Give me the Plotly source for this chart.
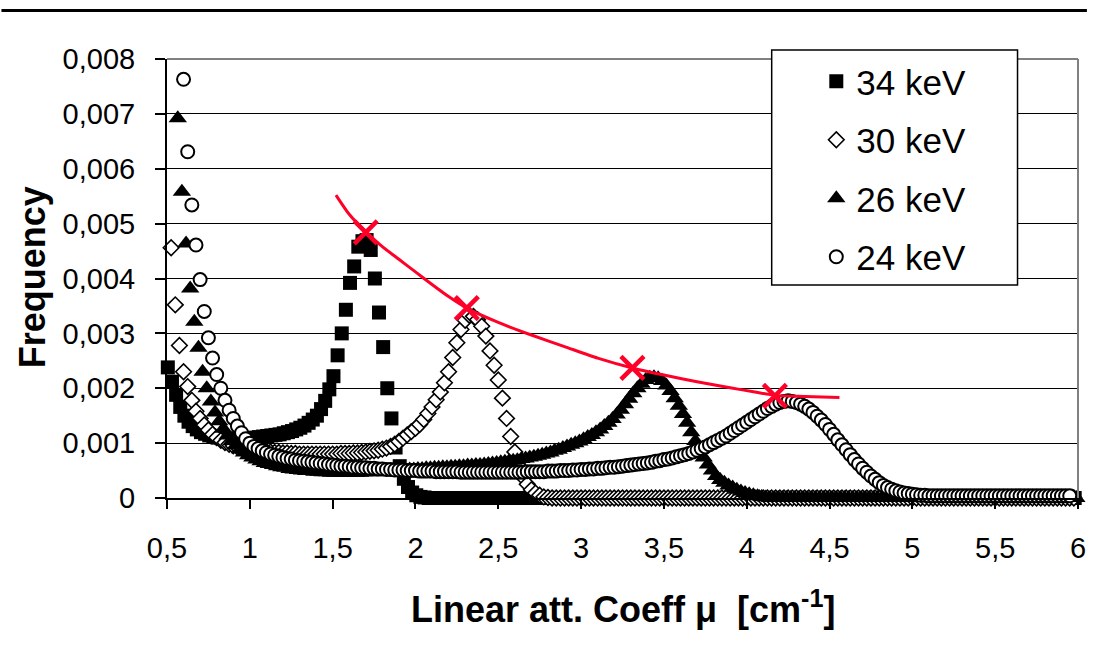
import plotly.graph_objects as go

# ---------------- data (frequency values) ----------------
STEP = 0.025  # spacing of the linear attenuation coefficient samples [cm-1]

start_34 = 0.505
freq_34 = [
    0.00238, 0.00212, 0.00188, 0.00166, 0.00150, 0.00139, 0.00131, 0.00125, 0.00120, 0.00117,
    0.00114, 0.00112, 0.00110, 0.00109, 0.00108, 0.00108, 0.00108, 0.00108, 0.00108, 0.00109,
    0.00109, 0.00110, 0.00111, 0.00112, 0.00113, 0.00114, 0.00115, 0.00116, 0.00118, 0.00120,
    0.00122, 0.00125, 0.00128, 0.00132, 0.00137, 0.00143, 0.00150, 0.00162, 0.00177, 0.00198,
    0.00222, 0.00260, 0.00300, 0.00343, 0.00392, 0.00422, 0.00458, 0.00468, 0.00470, 0.00452,
    0.00400, 0.00338, 0.00275, 0.00200, 0.00145, 0.00092, 0.00058, 0.00035, 0.00020, 0.00010,
    0.00005, 0.00002, 0.00001, 0, 0, 0, 0, 0, 0, 0,
    0, 0, 0, 0, 0, 0, 0, 0, 0, 0,
    0, 0, 0, 0, 0, 0, 0, 0, 0, 0,
    0, 0, 0, 0, 0, 0, 0, 0, 0, 0,
    0, 0, 0, 0, 0, 0, 0, 0, 0, 0,
    0, 0, 0, 0, 0, 0, 0, 0, 0, 0,
    0, 0, 0, 0, 0, 0, 0, 0, 0, 0,
    0, 0, 0, 0, 0, 0, 0, 0, 0, 0,
    0, 0, 0, 0, 0, 0, 0, 0, 0, 0,
    0, 0, 0, 0, 0, 0, 0, 0, 0, 0,
    0, 0, 0, 0, 0, 0, 0, 0, 0, 0,
    0, 0, 0, 0, 0, 0, 0, 0, 0, 0,
    0, 0, 0, 0, 0, 0, 0, 0, 0, 0,
    0, 0, 0, 0, 0, 0, 0, 0, 0, 0,
    0, 0, 0, 0, 0, 0, 0, 0, 0, 0,
    0, 0, 0, 0, 0, 0, 0, 0, 0, 0,
]

start_30 = 0.525
freq_30 = [
    0.00456, 0.00352, 0.00278, 0.00230, 0.00203, 0.00178, 0.00158, 0.00145, 0.00133, 0.00124,
    0.00116, 0.00110, 0.00105, 0.00101, 0.00098, 0.00095, 0.00093, 0.00091, 0.00090, 0.00089,
    0.00088, 0.00087, 0.00086, 0.00085, 0.00084, 0.00083, 0.00083, 0.00082, 0.00082, 0.00081,
    0.00081, 0.00080, 0.00080, 0.00080, 0.00080, 0.00080, 0.00080, 0.00080, 0.00080, 0.00080,
    0.00080, 0.00081, 0.00081, 0.00081, 0.00082, 0.00082, 0.00083, 0.00084, 0.00085, 0.00086,
    0.00087, 0.00089, 0.00091, 0.00094, 0.00098, 0.00103, 0.00109, 0.00115, 0.00121, 0.00127,
    0.00134, 0.00143, 0.00154, 0.00166, 0.00179, 0.00193, 0.00210, 0.00230, 0.00256, 0.00283,
    0.00307, 0.00324, 0.00333, 0.00331, 0.00325, 0.00313, 0.00295, 0.00268, 0.00242, 0.00215,
    0.00182, 0.00145, 0.00112, 0.00084, 0.00058, 0.00038, 0.00025, 0.00015, 0.00009, 0.00005,
    0.00002, 0.00001, 0, 0, 0, 0, 0, 0, 0, 0,
    0, 0, 0, 0, 0, 0, 0, 0, 0, 0,
    0, 0, 0, 0, 0, 0, 0, 0, 0, 0,
    0, 0, 0, 0, 0, 0, 0, 0, 0, 0,
    0, 0, 0, 0, 0, 0, 0, 0, 0, 0,
    0, 0, 0, 0, 0, 0, 0, 0, 0, 0,
    0, 0, 0, 0, 0, 0, 0, 0, 0, 0,
    0, 0, 0, 0, 0, 0, 0, 0, 0, 0,
    0, 0, 0, 0, 0, 0, 0, 0, 0, 0,
    0, 0, 0, 0, 0, 0, 0, 0, 0, 0,
    0, 0, 0, 0, 0, 0, 0, 0, 0, 0,
    0, 0, 0, 0, 0, 0, 0, 0, 0, 0,
    0, 0, 0, 0, 0, 0, 0, 0, 0,
]

start_26 = 0.565
freq_26 = [
    0.00692, 0.00558, 0.00464, 0.00382, 0.00321, 0.00274, 0.00230, 0.00200, 0.00176, 0.00156,
    0.00140, 0.00126, 0.00114, 0.00104, 0.00096, 0.00089, 0.00083, 0.00078, 0.00074, 0.00070,
    0.00067, 0.00064, 0.00062, 0.00060, 0.00058, 0.00056, 0.00055, 0.00053, 0.00052, 0.00051,
    0.00050, 0.00049, 0.00049, 0.00048, 0.00048, 0.00047, 0.00047, 0.00046, 0.00046, 0.00046,
    0.00046, 0.00046, 0.00046, 0.00046, 0.00046, 0.00047, 0.00047, 0.00047, 0.00048, 0.00048,
    0.00049, 0.00049, 0.00050, 0.00050, 0.00051, 0.00051, 0.00052, 0.00052, 0.00053, 0.00053,
    0.00054, 0.00054, 0.00055, 0.00055, 0.00056, 0.00056, 0.00057, 0.00057, 0.00058, 0.00058,
    0.00059, 0.00059, 0.00060, 0.00060, 0.00061, 0.00062, 0.00063, 0.00064, 0.00065, 0.00066,
    0.00067, 0.00068, 0.00069, 0.00071, 0.00072, 0.00074, 0.00075, 0.00077, 0.00079, 0.00081,
    0.00083, 0.00086, 0.00088, 0.00091, 0.00094, 0.00097, 0.00100, 0.00103, 0.00107, 0.00111,
    0.00115, 0.00120, 0.00125, 0.00131, 0.00137, 0.00144, 0.00152, 0.00161, 0.00171, 0.00181,
    0.00191, 0.00200, 0.00208, 0.00215, 0.00219, 0.00220, 0.00218, 0.00213, 0.00205, 0.00195,
    0.00182, 0.00168, 0.00153, 0.00137, 0.00120, 0.00104, 0.00088, 0.00074, 0.00061, 0.00050,
    0.00040, 0.00033, 0.00028, 0.00023, 0.00019, 0.00015, 0.00012, 0.00009, 0.00007, 0.00005,
    0.00003, 0.00002, 0.00001, 0, 0, 0, 0, 0, 0, 0,
    0, 0, 0, 0, 0, 0, 0, 0, 0, 0,
    0, 0, 0, 0, 0, 0, 0, 0, 0, 0,
    0, 0, 0, 0, 0, 0, 0, 0, 0, 0,
    0, 0, 0, 0, 0, 0, 0, 0, 0, 0,
    0, 0, 0, 0, 0, 0, 0, 0, 0, 0,
    0, 0, 0, 0, 0, 0, 0, 0, 0, 0,
    0, 0, 0, 0, 0, 0, 0, 0,
]

start_24 = 0.600
freq_24 = [
    0.00763, 0.00631, 0.00534, 0.00461, 0.00398, 0.00340, 0.00292, 0.00255, 0.00225, 0.00200,
    0.00178, 0.00160, 0.00145, 0.00131, 0.00119, 0.00108, 0.00100, 0.00094, 0.00090, 0.00086,
    0.00083, 0.00080, 0.00078, 0.00076, 0.00074, 0.00072, 0.00071, 0.00069, 0.00068, 0.00067,
    0.00066, 0.00065, 0.00064, 0.00063, 0.00062, 0.00061, 0.00060, 0.00059, 0.00058, 0.00058,
    0.00057, 0.00056, 0.00056, 0.00055, 0.00055, 0.00054, 0.00054, 0.00053, 0.00053, 0.00052,
    0.00052, 0.00051, 0.00051, 0.00051, 0.00050, 0.00050, 0.00050, 0.00049, 0.00049, 0.00049,
    0.00049, 0.00048, 0.00048, 0.00048, 0.00048, 0.00048, 0.00048, 0.00047, 0.00047, 0.00047,
    0.00047, 0.00047, 0.00047, 0.00047, 0.00047, 0.00047, 0.00047, 0.00047, 0.00047, 0.00047,
    0.00047, 0.00047, 0.00047, 0.00048, 0.00048, 0.00048, 0.00048, 0.00048, 0.00049, 0.00049,
    0.00049, 0.00050, 0.00050, 0.00050, 0.00051, 0.00051, 0.00052, 0.00052, 0.00053, 0.00053,
    0.00054, 0.00054, 0.00055, 0.00056, 0.00056, 0.00057, 0.00058, 0.00059, 0.00060, 0.00061,
    0.00062, 0.00063, 0.00064, 0.00065, 0.00067, 0.00068, 0.00070, 0.00071, 0.00073, 0.00075,
    0.00077, 0.00079, 0.00081, 0.00084, 0.00087, 0.00090, 0.00093, 0.00097, 0.00101, 0.00105,
    0.00109, 0.00113, 0.00118, 0.00123, 0.00128, 0.00133, 0.00138, 0.00143, 0.00148, 0.00153,
    0.00158, 0.00163, 0.00167, 0.00171, 0.00174, 0.00176, 0.00177, 0.00176, 0.00174, 0.00171,
    0.00167, 0.00162, 0.00156, 0.00149, 0.00142, 0.00134, 0.00125, 0.00116, 0.00106, 0.00097,
    0.00088, 0.00079, 0.00070, 0.00062, 0.00054, 0.00047, 0.00040, 0.00034, 0.00028, 0.00023,
    0.00019, 0.00016, 0.00013, 0.00011, 0.00009, 0.00008, 0.00007, 0.00006, 0.00005, 0.00005,
    0.00004, 0.00004, 0.00004, 0.00004, 0.00004, 0.00004, 0.00004, 0.00004, 0.00004, 0.00004,
    0.00004, 0.00004, 0.00004, 0.00004, 0.00004, 0.00004, 0.00004, 0.00004, 0.00004, 0.00004,
    0.00004, 0.00004, 0.00004, 0.00004, 0.00004, 0.00004, 0.00004, 0.00004, 0.00004, 0.00004,
    0.00004, 0.00004, 0.00004, 0.00004, 0.00004,
]

# red curve through the peak maxima
trend_mu = [1.52, 1.60, 1.70, 1.80, 1.90, 2.00, 2.10, 2.20, 2.31, 2.50, 2.70, 2.90, 3.10,
            3.31, 3.50, 3.70, 3.90, 4.05, 4.17, 4.35, 4.56]
trend_freq = [0.00552, 0.00517, 0.00485, 0.00458, 0.00435, 0.00412, 0.00389, 0.00367, 0.00346,
              0.00320, 0.00297, 0.00276, 0.00255, 0.00237, 0.00224, 0.00212, 0.00201, 0.00193,
              0.00187, 0.00185, 0.00183]
peak_mu = [1.70, 2.31, 3.31, 4.17]
peak_freq = [0.00484, 0.00346, 0.00237, 0.00186]

x_ticks = [0.5, 1, 1.5, 2, 2.5, 3, 3.5, 4, 4.5, 5, 5.5, 6]
x_labels = ["0,5", "1", "1,5", "2", "2,5", "3", "3,5", "4", "4,5", "5", "5,5", "6"]
y_ticks = [0, 0.001, 0.002, 0.003, 0.004, 0.005, 0.006, 0.007, 0.008]
y_labels = ["0", "0,001", "0,002", "0,003", "0,004", "0,005", "0,006", "0,007", "0,008"]

# ---------------- figure ----------------
W, H = 1095, 653
# plot area in pixels
L, R, T, B = 167, 1086, 59, 498
FONT = "Arial, Liberation Sans, sans-serif"


def xp(px):
    """x pixel -> paper coordinate"""
    return (px - L) / (R - L)


def yp(py):
    """y pixel -> paper coordinate"""
    return (B - py) / (B - T)


def mu_axis(start, values):
    return [round(start + STEP * i, 4) for i in range(len(values))]


series = [
    ("34 keV", start_34, freq_34, dict(symbol="square", size=14, color="black",
                                       line=dict(width=0))),
    ("30 keV", start_30, freq_30, dict(symbol="diamond", size=12, color="white",
                                       line=dict(width=1.6, color="black"))),
    ("26 keV", start_26, freq_26, dict(symbol="triangle-up", size=16, color="black",
                                       line=dict(width=0))),
    ("24 keV", start_24, freq_24, dict(symbol="circle", size=13, color="white",
                                       line=dict(width=2, color="black"))),
]

fig = go.Figure()
for i, (name, start, vals, mk) in enumerate(series):
    fig.add_trace(go.Scatter(x=mu_axis(start, vals), y=vals, mode="markers", name=name,
                             marker=mk, cliponaxis=False, legendgroup=f"g{i}"))

RED = "rgb(255,0,40)"
fig.add_trace(go.Scatter(x=trend_mu, y=trend_freq, mode="lines", showlegend=False,
                         line=dict(color=RED, width=3, shape="spline", smoothing=0.6)))
fig.add_trace(go.Scatter(x=peak_mu, y=peak_freq, mode="markers", showlegend=False,
                         marker=dict(symbol="x-thin", size=23, line=dict(color=RED, width=4.5))))

fig.update_layout(
    width=W, height=H,
    margin=dict(l=L, r=W - R, t=T, b=H - B, pad=0),
    paper_bgcolor="white", plot_bgcolor="white",
    font=dict(family=FONT, color="black", size=29),
    showlegend=True,
    legend=dict(x=xp(822), y=yp(52), xanchor="left", yanchor="top",
                bgcolor="rgba(0,0,0,0)", borderwidth=0, font=dict(size=35, family=FONT),
                tracegroupgap=10, itemsizing="trace", itemwidth=30),
    xaxis=dict(range=[0.5, 6], tickmode="array", tickvals=x_ticks, ticktext=x_labels,
               showgrid=False, zeroline=False, showline=True, linecolor="black", linewidth=2,
               ticks="outside", ticklen=9, tickwidth=1.5, tickcolor="black",
               tickfont=dict(size=29), ticklabelstandoff=14, ticklabeloverflow="allow"),
    yaxis=dict(range=[0, 0.008], tickmode="array", tickvals=y_ticks, ticktext=y_labels,
               showgrid=True, gridcolor="black", gridwidth=1.3, zeroline=False,
               showline=True, linecolor="black", linewidth=2,
               ticks="outside", ticklen=10, tickwidth=1.5, tickcolor="black",
               tickfont=dict(size=29), ticklabelstandoff=14),
    shapes=[
        # plot area frame (grey top / right)
        dict(type="line", xref="paper", yref="paper", x0=0, x1=1, y0=1, y1=1,
             line=dict(color="#808080", width=2), layer="above"),
        dict(type="line", xref="paper", yref="paper", x0=1, x1=1, y0=0, y1=1,
             line=dict(color="#808080", width=2), layer="above"),
        # legend box
        dict(type="rect", xref="paper", yref="paper", x0=xp(777), x1=xp(1025),
             y0=yp(285), y1=yp(50), fillcolor="white", line=dict(color="black", width=1.5),
             layer="above"),
        # chart frame line at the top
        dict(type="line", xref="paper", yref="paper", x0=xp(0), x1=xp(W), y0=yp(10.5),
             y1=yp(10.5), line=dict(color="black", width=3)),
    ],
    annotations=[
        dict(text="Linear att. Coeff μ  [cm<sup>-1</sup>]", xref="paper", yref="paper",
             x=xp(627), y=yp(607), xanchor="center", yanchor="middle", showarrow=False,
             font=dict(size=36, family=FONT, color="black", weight="bold")),
        dict(text="Frequency", xref="paper", yref="paper", x=xp(31), y=yp(277),
             xanchor="center", yanchor="middle", textangle=-90, showarrow=False,
             font=dict(size=36, family=FONT, color="black", weight="bold")),
    ],
)

# the page body margin is removed so that the figure sits at the window origin
fig.write_html(
    "out.html",
    config={"displayModeBar": False},
    post_script="document.body.style.margin='0px';"
                "document.documentElement.style.overflow='hidden';",
)
